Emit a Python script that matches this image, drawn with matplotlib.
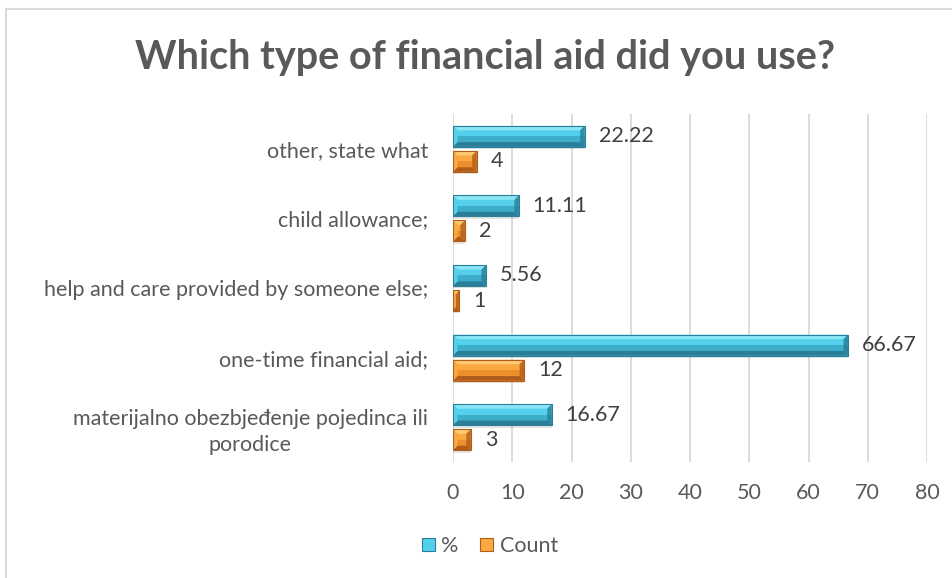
import matplotlib
matplotlib.use("Agg")
import matplotlib.pyplot as plt
from matplotlib.patches import Polygon, Rectangle
import numpy as np

plt.rcParams['font.family'] = ['Lato', 'DejaVu Sans']

categories = [
    "materijalno obezbjeđenje pojedinca ili\nporodice",
    "one-time financial aid;",
    "help and care provided by someone else;",
    "child allowance;",
    "other, state what",
]
percent = [16.67, 66.67, 5.56, 11.11, 22.22]
count = [3, 12, 1, 2, 4]
x_ticks = [0, 10, 20, 30, 40, 50, 60, 70, 80]
title = "Which type of financial aid did you use?"

TEXT = "#595959"
# bevel shades: top edge, upper face, lower face, bottom edge
CYAN = ("#8AE6F7", "#55D0EC", "#3DADCA", "#2A7E97")
ORANGE = ("#FDCB72", "#F9A940", "#EC8F2C", "#B05D1C")

W, H = 952, 578
fig = plt.figure(figsize=(W / 100, H / 100), dpi=100)
ax = fig.add_axes([453 / W, 1 - 462 / H, 474 / W, 348 / H])

y = np.arange(len(categories))
off, bh = 0.18, 0.30
bars_p = ax.barh(y + off, percent, height=bh, color=CYAN[2], zorder=3)
bars_c = ax.barh(y - off, count, height=bh, color=ORANGE[2], zorder=3)

ax.set_xlim(0, 80)
ax.set_ylim(-0.5, len(categories) - 0.5)

px_x = 80 / 474.0
px_y = len(categories) / 348.0
bev = 4.5

def bevel(bars, cols):
    top_c, up_c, low_c, bot_c = cols
    for b in bars:
        x0, x1 = b.get_x(), b.get_x() + b.get_width()
        y0, y1 = b.get_y(), b.get_y() + b.get_height()
        ym = (y0 + y1) / 2
        dx = min(bev * px_x, (x1 - x0) / 2)
        dy = bev * px_y
        # soft drop shadow
        ax.add_patch(Rectangle((x0 + 0.3 * px_x, y0 - 2.5 * px_y), x1 - x0, y1 - y0,
                               color="#000000", alpha=0.10, lw=0, zorder=2))
        ax.add_patch(Rectangle((x0, ym), x1 - x0, y1 - ym, color=up_c, lw=0, zorder=3.5))
        top = [(x0, y1), (x1, y1), (x1 - dx, y1 - dy), (x0 + dx, y1 - dy)]
        bot = [(x0, y0), (x1, y0), (x1 - dx, y0 + dy), (x0 + dx, y0 + dy)]
        left = [(x0, y0), (x0, y1), (x0 + dx, y1 - dy), (x0 + dx, y0 + dy)]
        right = [(x1, y0), (x1, y1), (x1 - dx, y1 - dy), (x1 - dx, y0 + dy)]
        ax.add_patch(Polygon(top, closed=True, color=top_c, lw=0, zorder=4))
        ax.add_patch(Polygon(bot, closed=True, color=bot_c, lw=0, zorder=4))
        ax.add_patch(Polygon(left, closed=True, color=up_c, lw=0, zorder=4))
        ax.add_patch(Polygon(right, closed=True, color=bot_c, lw=0, alpha=0.8, zorder=4))
        ax.add_patch(Rectangle((x0, y0), x1 - x0, y1 - y0, fill=False,
                               ec=bot_c, lw=0.8, zorder=5))

bevel(bars_p, CYAN)
bevel(bars_c, ORANGE)

for yy, v in zip(y + off, percent):
    ax.annotate(f"{v:.2f}", (v, yy), xytext=(10, 0), textcoords="offset points",
                va="center", ha="left", fontsize=15.5, color="#404040")
for yy, v in zip(y - off, count):
    ax.annotate(f"{v}", (v, yy), xytext=(10, 0), textcoords="offset points",
                va="center", ha="left", fontsize=15.5, color="#404040")

ax.set_xticks(x_ticks)
ax.set_xticklabels([str(t) for t in x_ticks], fontsize=15.5, color=TEXT)
ax.set_yticks(y)
ax.set_yticklabels(categories, fontsize=15.5, color=TEXT, ha="right",
                   multialignment="center", linespacing=1.35)
ax.tick_params(axis="x", length=0, pad=15)
ax.tick_params(axis="y", length=0, pad=18)
ax.grid(axis="x", color="#D9D9D9", lw=1.3, zorder=0)
for s in ax.spines.values():
    s.set_visible(False)

fig.text(485 / W, 1 - 57 / H, title, ha="center", va="center",
         fontsize=28.5, fontweight="bold", color=TEXT)

handles = [Rectangle((0, 0), 1, 1, fc=CYAN[1], ec=CYAN[3], lw=0.8),
           Rectangle((0, 0), 1, 1, fc=ORANGE[1], ec=ORANGE[3], lw=0.8)]
fig.legend(handles, ["%", "Count"], loc="center", bbox_to_anchor=(490 / W, 1 - 546 / H),
           ncol=2, frameon=False, fontsize=15.5, labelcolor=TEXT,
           handlelength=0.6, handleheight=0.6, handletextpad=0.3, columnspacing=1.0)

# chart frame
fig.add_artist(Rectangle((6 / W, -0.05), 1.0, 1 - 9 / H + 0.05, transform=fig.transFigure,
                         fill=False, ec="#D9D9D9", lw=1.5))

fig.savefig("out.png", dpi=100)
